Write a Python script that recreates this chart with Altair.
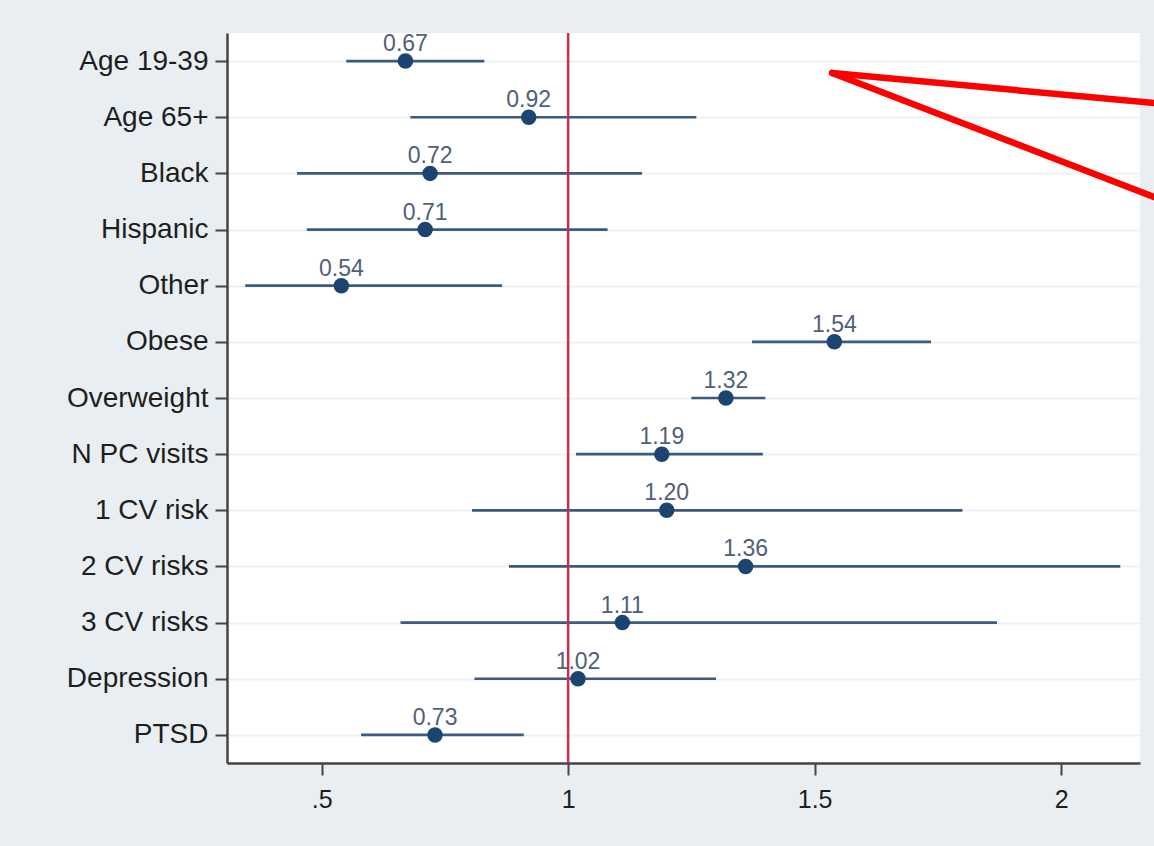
import altair as alt
import pandas as pd

# ---- data ----
categories = ["Age 19-39", "Age 65+", "Black", "Hispanic", "Other", "Obese",
              "Overweight", "N PC visits", "1 CV risk", "2 CV risks",
              "3 CV risks", "Depression", "PTSD"]
estimates = [0.67, 0.92, 0.72, 0.71, 0.54, 1.54, 1.32, 1.19, 1.20, 1.36, 1.11, 1.02, 0.73]
ci_low = [0.55, 0.68, 0.45, 0.47, 0.345, 1.373, 1.25, 1.016, 0.805, 0.88, 0.66, 0.81, 0.58]
ci_high = [0.83, 1.26, 1.15, 1.08, 0.866, 1.736, 1.40, 1.395, 1.80, 2.12, 1.87, 1.30, 0.91]
x_ticks = [0.5, 1, 1.5, 2]
x_domain = [0.308, 2.160]
reference_value = [1]

# red annotation arrow (x in odds-ratio units, y in row-index units)
arrow_x_start = [1.5355, 1.5355]
arrow_x_end = [2.20, 2.20]
arrow_y_start = [0.212, 0.212]
arrow_y_end = [0.757, 2.46]

df = pd.DataFrame({"cat": categories, "est": estimates, "lo": ci_low, "hi": ci_high})
ref_df = pd.DataFrame({"v": reference_value})
arrow_df = pd.DataFrame({"x": arrow_x_start, "x2": arrow_x_end,
                         "y": arrow_y_start, "y2": arrow_y_end})

xscale = alt.Scale(domain=x_domain, nice=False, zero=False)
yscale = alt.Scale(type="point", padding=0.5, domain=categories)

xaxis = alt.Axis(values=x_ticks, title=None, grid=False,
                 labelExpr="replace(format(datum.value, ''), /^0\\./, '.')",
                 labelFontSize=25, labelColor="#1e1e1e", labelFont="Liberation Sans",
                 tickSize=12, labelPadding=12, domainColor="#444444", tickColor="#444444",
                 domainWidth=2.5, tickWidth=2)
yaxis = alt.Axis(title=None, grid=True, gridColor="#edf1f4", gridWidth=2,
                 labelFontSize=28, labelColor="#1e1e1e", labelFont="Liberation Sans",
                 tickSize=12, labelPadding=7, domainColor="#444444", tickColor="#444444",
                 domainWidth=2.5, tickWidth=2)

base = alt.Chart(df)

bars = base.mark_rule(color="#3d5b80", strokeWidth=2.7).encode(
    x=alt.X("lo:Q", scale=xscale, axis=xaxis),
    x2="hi:Q",
    y=alt.Y("cat:N", scale=yscale, axis=yaxis, sort=categories),
)

ref = alt.Chart(ref_df).mark_rule(color="#cc2e50", strokeWidth=2.5).encode(
    x=alt.X("v:Q", scale=xscale)
)

points = base.mark_circle(size=240, color="#1b4570", opacity=1).encode(
    x=alt.X("est:Q", scale=xscale),
    y=alt.Y("cat:N", scale=yscale, sort=categories),
)

labels = base.mark_text(fontSize=23, color="#506078", baseline="alphabetic",
                        dy=-10, font="Liberation Sans").encode(
    x=alt.X("est:Q", scale=xscale),
    y=alt.Y("cat:N", scale=yscale, sort=categories),
    text=alt.Text("est:Q", format=".2f"),
)

main = alt.layer(bars, ref, points, labels)

arrow = alt.Chart(arrow_df).mark_rule(color="#ff0000", strokeWidth=6.5,
                                      strokeCap="round").encode(
    x=alt.X("x:Q", scale=xscale),
    x2="x2:Q",
    y=alt.Y("y:Q", scale=alt.Scale(domain=[-0.5, 12.5], reverse=True, nice=False, zero=False),
            axis=None),
    y2="y2:Q",
)

chart = alt.layer(main, arrow).resolve_scale(y="independent").properties(
    width=913, height=730,
    padding={"left": 227, "top": 33, "right": 14, "bottom": 83},
    autosize=alt.AutoSizeParams(type="none"),
    background="#e8eef2",
).configure_view(stroke=None, fill="white")

chart.save("out.html", embed_options={"renderer": "svg", "actions": False})
